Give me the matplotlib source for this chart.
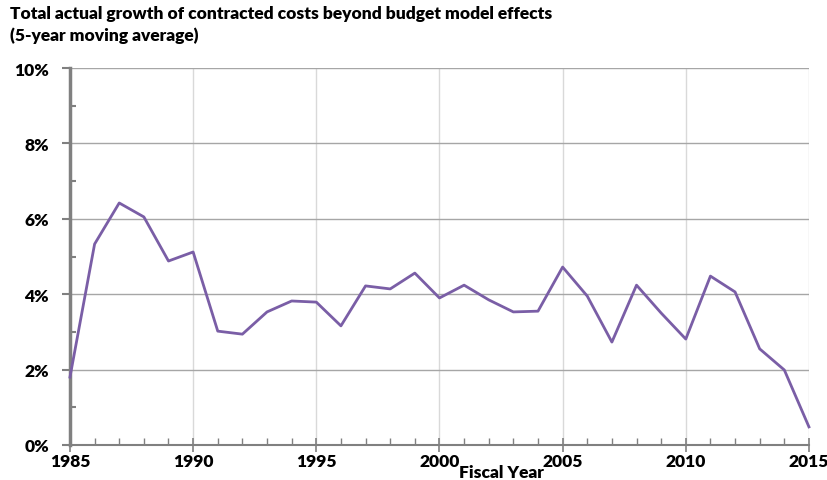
import matplotlib
matplotlib.use("Agg")
import matplotlib.pyplot as plt
from matplotlib.ticker import MultipleLocator, FuncFormatter

years = list(range(1985, 2016))
growth_pct = [1.80, 5.33, 6.42, 6.05, 4.88, 5.12, 3.02, 2.94, 3.53, 3.82,
              3.79, 3.16, 4.22, 4.14, 4.56, 3.90, 4.24, 3.85, 3.53, 3.55,
              4.72, 3.95, 2.73, 4.24, 3.50, 2.81, 4.48, 4.06, 2.55, 1.99,
              0.48]

title = "Total actual growth of contracted costs beyond budget model effects\n(5-year moving average)"

plt.rcParams["font.family"] = ["Lato", "DejaVu Sans"]

fig = plt.figure(figsize=(8.28, 4.81), dpi=100)
ax = fig.add_axes([0.0845, 0.0728, 0.8925, 0.7837])

ax.plot(years, growth_pct, color="#7a5ea6", linewidth=2.0, zorder=3, clip_on=False)

ax.set_xlim(1985, 2015)
ax.set_ylim(0, 10)
ax.xaxis.set_major_locator(MultipleLocator(5))
ax.xaxis.set_minor_locator(MultipleLocator(1))
ax.yaxis.set_major_locator(MultipleLocator(2))
ax.yaxis.set_minor_locator(MultipleLocator(1))
ax.yaxis.set_major_formatter(FuncFormatter(lambda v, p: f"{v:.0f}%"))

ax.grid(axis="y", which="major", color="#a6a6a6", linewidth=1.0)
ax.grid(axis="x", which="major", color="#d9d9d9", linewidth=1.0)

for s in ["top", "right"]:
    ax.spines[s].set_visible(False)
ax.spines["left"].set_color("#808080")
ax.spines["left"].set_linewidth(2.5)
ax.spines["bottom"].set_color("#808080")
ax.spines["bottom"].set_linewidth(1.5)

ax.tick_params(axis="y", which="major", direction="out", length=6, width=1.5,
               color="#808080", labelsize=12.5, pad=9)
ax.tick_params(axis="y", which="minor", direction="in", length=4, width=1.5, color="#808080")
ax.tick_params(axis="x", which="major", direction="inout", length=10, width=1.2,
               color="#808080", labelsize=12.5, pad=1)
ax.tick_params(axis="x", which="minor", direction="in", length=5, width=1.0, color="#808080")
for lbl in ax.get_xticklabels() + ax.get_yticklabels():
    lbl.set_fontweight("heavy")

ax.set_xlabel("Fiscal Year", fontsize=12.5, fontweight="heavy", va="bottom")
ax.xaxis.set_label_coords(0.584, -0.092)

fig.text(0.012, 0.988, title, fontsize=12.5, fontweight="heavy", va="top", ha="left",
         linespacing=1.4)

fig.savefig("out.png", dpi=100)
